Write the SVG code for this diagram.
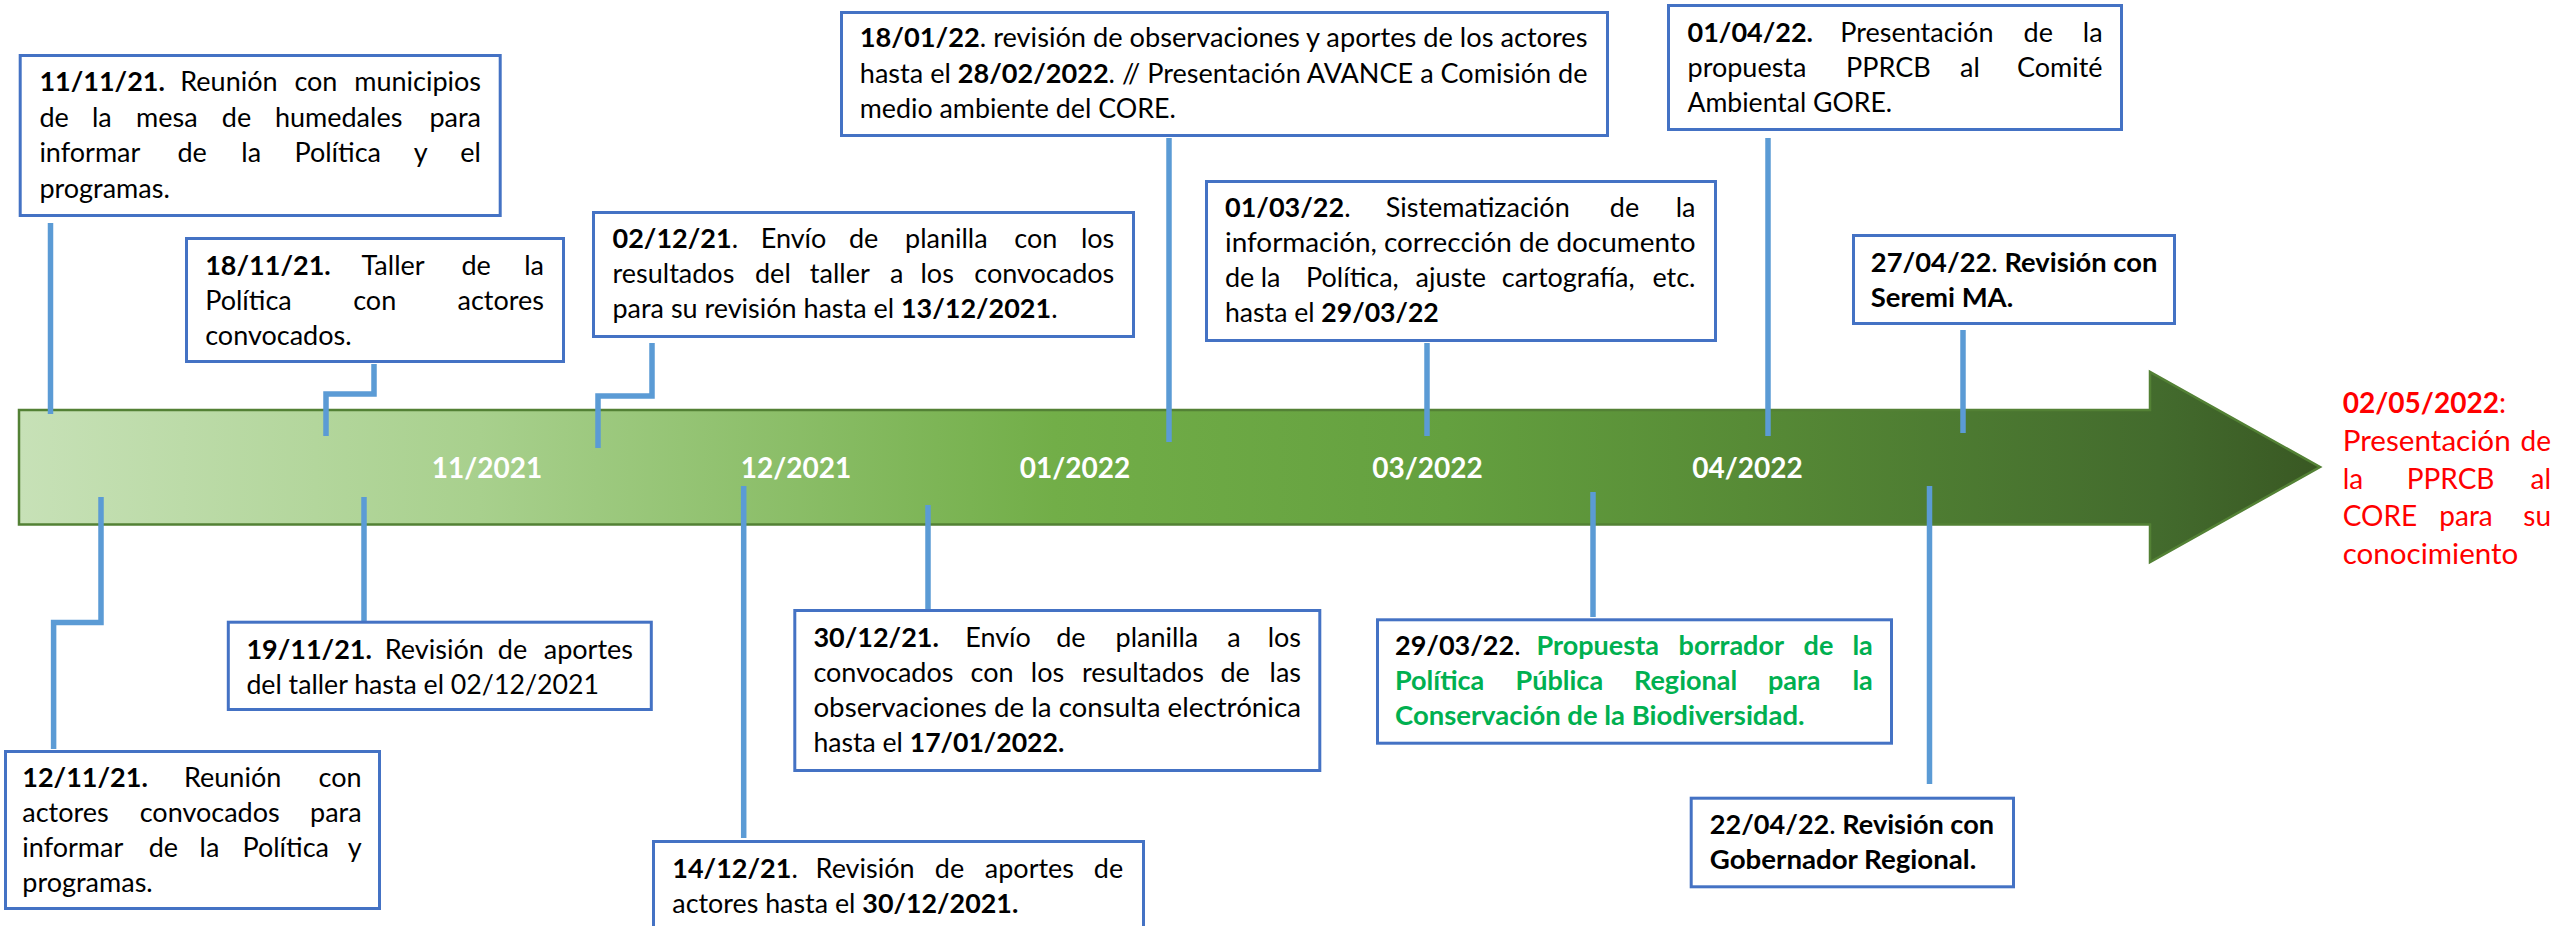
<svg xmlns="http://www.w3.org/2000/svg" width="2554" height="926" viewBox="0 0 2554 926">
<defs>
<linearGradient id="barGrad" gradientUnits="userSpaceOnUse" x1="19" y1="0" x2="2320" y2="0">
<stop offset="0" stop-color="#C7E1B7"/>
<stop offset="0.2" stop-color="#A8D08D"/>
<stop offset="0.45" stop-color="#72AE48"/>
<stop offset="0.62" stop-color="#64A03F"/>
<stop offset="0.75" stop-color="#578B36"/>
<stop offset="0.93" stop-color="#436B2D"/>
<stop offset="1" stop-color="#395823"/>
</linearGradient>
<style>
.box{fill:#FFFFFF;stroke:#4472C4;stroke-width:3}
.con{fill:none;stroke:#5B9BD5;stroke-width:5.5;stroke-linejoin:miter}
.t{font-family:Lato,"Open Sans","Liberation Sans",sans-serif;font-size:27px;fill:#000000}
.b{font-weight:700}
.g{fill:#00B050;font-weight:700}
.r{font-family:Lato,"Open Sans","Liberation Sans",sans-serif;font-size:28px;fill:#FF0000}
.m{font-family:Lato,"Open Sans","Liberation Sans",sans-serif;font-size:28px;font-weight:700;fill:#FFFFFF}
</style>
</defs>
<rect width="2554" height="926" fill="#FFFFFF"/>

<g id="timeline-arrow">
<path d="M19,410 H2150 V372 L2320,467 L2150,562 V524.5 H19 Z" fill="url(#barGrad)" stroke="#538135" stroke-width="2.5"/>
<text class="m" x="487" y="478" text-anchor="middle">11/2021</text>
<text class="m" x="796" y="478" text-anchor="middle">12/2021</text>
<text class="m" x="1075" y="478" text-anchor="middle">01/2022</text>
<text class="m" x="1427.5" y="478" text-anchor="middle">03/2022</text>
<text class="m" x="1747.5" y="478" text-anchor="middle">04/2022</text>
</g>

<g id="connectors">
<path class="con" d="M50.5,223 V414"/>
<path class="con" d="M374,364 V394 H326 V436"/>
<path class="con" d="M652,343 V396 H598 V448"/>
<path class="con" d="M1169,138 V442"/>
<path class="con" d="M1427,343 V436"/>
<path class="con" d="M1768,138 V436"/>
<path class="con" d="M1963,330 V433"/>
<path class="con" d="M101,497 V622.5 H53.6 V749"/>
<path class="con" d="M364,497 V621"/>
<path class="con" d="M743.7,486 V838"/>
<path class="con" d="M928,505 V609"/>
<path class="con" d="M1593,492 V617"/>
<path class="con" d="M1929.5,486 V784"/>
</g>

<g id="n-111121">
<rect class="box" x="20.2" y="55.5" width="480" height="160"/>
<text class="t" y="91"><tspan x="39.4" class="b">11/11/21.</tspan><tspan x="180.3">Reunión</tspan><tspan x="294.4">con</tspan><tspan x="481" text-anchor="end">municipios</tspan></text>
<text class="t" y="126.5"><tspan x="39.4">de</tspan><tspan x="92">la</tspan><tspan x="136">mesa</tspan><tspan x="221.8">de</tspan><tspan x="274.9">humedales</tspan><tspan x="481" text-anchor="end">para</tspan></text>
<text class="t" y="162"><tspan x="39.4">informar</tspan><tspan x="177.4">de</tspan><tspan x="241.3">la</tspan><tspan x="294.4">Política</tspan><tspan x="413.8">y</tspan><tspan x="481" text-anchor="end">el</tspan></text>
<text class="t" x="39.4" y="197.5">programas.</text>
</g>

<g id="n-181121">
<rect class="box" x="186.5" y="238.5" width="377" height="123"/>
<text class="t" y="275"><tspan x="205.2" class="b">18/11/21.</tspan><tspan x="361.5">Taller</tspan><tspan x="461.4">de</tspan><tspan x="544" text-anchor="end">la</tspan></text>
<text class="t" y="310"><tspan x="205.2">Política</tspan><tspan x="353.2">con</tspan><tspan x="544" text-anchor="end">actores</tspan></text>
<text class="t" x="205.2" y="345">convocados.</text>
</g>

<g id="n-021221">
<rect class="box" x="593.5" y="212.5" width="540" height="124"/>
<text class="t" y="248"><tspan x="612.5"><tspan class="b">02/12/21</tspan>.</tspan><tspan x="760.7">Envío</tspan><tspan x="849">de</tspan><tspan x="905">planilla</tspan><tspan x="1014.3">con</tspan><tspan x="1114.3" text-anchor="end">los</tspan></text>
<text class="t" y="283"><tspan x="612.5">resultados</tspan><tspan x="755">del</tspan><tspan x="809.8">taller</tspan><tspan x="890">a</tspan><tspan x="920.5">los</tspan><tspan x="1114.3" text-anchor="end">convocados</tspan></text>
<text class="t" x="612.5" y="318" textLength="445" lengthAdjust="spacingAndGlyphs">para su revisión hasta el <tspan class="b">13/12/2021</tspan>.</text>
</g>

<g id="n-180122">
<rect class="box" x="841.5" y="12.5" width="766" height="123"/>
<text class="t" x="859.8" y="47" textLength="727.7" lengthAdjust="spacingAndGlyphs"><tspan class="b">18/01/22</tspan>. revisión de observaciones y aportes de los actores</text>
<text class="t" x="859.8" y="83" textLength="727.7" lengthAdjust="spacingAndGlyphs">hasta el <tspan class="b">28/02/2022</tspan>. // Presentación AVANCE a Comisión de</text>
<text class="t" x="859.8" y="118" textLength="316" lengthAdjust="spacingAndGlyphs">medio ambiente del CORE.</text>
</g>

<g id="n-010322">
<rect class="box" x="1206.5" y="181.5" width="509" height="159"/>
<text class="t" y="217"><tspan x="1225"><tspan class="b">01/03/22</tspan>.</tspan><tspan x="1385.7">Sistematización</tspan><tspan x="1609.8">de</tspan><tspan x="1695.5" text-anchor="end">la</tspan></text>
<text class="t" x="1225" y="252" textLength="470.5" lengthAdjust="spacingAndGlyphs">información, corrección de documento</text>
<text class="t" y="287"><tspan x="1225">de</tspan><tspan x="1260.7">la</tspan><tspan x="1306">Política,</tspan><tspan x="1415.6">ajuste</tspan><tspan x="1501.8">cartografía,</tspan><tspan x="1695.5" text-anchor="end">etc.</tspan></text>
<text class="t" x="1225" y="322" textLength="213.8" lengthAdjust="spacingAndGlyphs">hasta el <tspan class="b">29/03/22</tspan></text>
</g>

<g id="n-010422">
<rect class="box" x="1668.5" y="5.5" width="453" height="124"/>
<text class="t" y="42"><tspan x="1687.5" class="b">01/04/22.</tspan><tspan x="1840.3">Presentación</tspan><tspan x="2023.6">de</tspan><tspan x="2102.6" text-anchor="end">la</tspan></text>
<text class="t" y="77"><tspan x="1687.5">propuesta</tspan><tspan x="1846">PPRCB</tspan><tspan x="1960">al</tspan><tspan x="2102.6" text-anchor="end">Comité</tspan></text>
<text class="t" x="1687.5" y="112" textLength="204.6" lengthAdjust="spacingAndGlyphs">Ambiental GORE.</text>
</g>

<g id="n-270422">
<rect class="box" x="1853.5" y="235.5" width="321" height="88"/>
<text class="t" x="1870.8" y="272" textLength="286.6" lengthAdjust="spacingAndGlyphs"><tspan class="b">27/04/22</tspan>.<tspan class="b"> Revisión con</tspan></text>
<text class="t b" x="1870.8" y="307" textLength="142.4" lengthAdjust="spacingAndGlyphs">Seremi MA.</text>
</g>

<g id="n-020522">
<text class="r" x="2342.7" y="413" textLength="163.3" lengthAdjust="spacingAndGlyphs"><tspan class="b">02/05/2022</tspan>:</text>
<text class="r" x="2342.7" y="451" textLength="168" lengthAdjust="spacingAndGlyphs">Presentación</text>
<text class="r" x="2551" y="451" text-anchor="end">de</text>
<text class="r" y="488.5"><tspan x="2342.7">la</tspan><tspan x="2406.7">PPRCB</tspan><tspan x="2551" text-anchor="end">al</tspan></text>
<text class="r" y="526"><tspan x="2342.7">CORE</tspan><tspan x="2439.3">para</tspan><tspan x="2551" text-anchor="end">su</tspan></text>
<text class="r" x="2342.7" y="563.5" textLength="175.6" lengthAdjust="spacingAndGlyphs">conocimiento</text>
</g>

<g id="n-121121">
<rect class="box" x="5.5" y="751.5" width="374" height="157"/>
<text class="t" y="787"><tspan x="22.3" class="b">12/11/21.</tspan><tspan x="184">Reunión</tspan><tspan x="361.6" text-anchor="end">con</tspan></text>
<text class="t" y="822"><tspan x="22.3">actores</tspan><tspan x="139.7">convocados</tspan><tspan x="361.6" text-anchor="end">para</tspan></text>
<text class="t" y="857"><tspan x="22.3">informar</tspan><tspan x="148.7">de</tspan><tspan x="199.6">la</tspan><tspan x="242.4">Política</tspan><tspan x="361.6" text-anchor="end">y</tspan></text>
<text class="t" x="22.3" y="892">programas.</text>
</g>

<g id="n-191121">
<rect class="box" x="228.3" y="622.2" width="423" height="87.3"/>
<text class="t" y="658.5"><tspan x="246.4" class="b">19/11/21.</tspan><tspan x="384.8">Revisión</tspan><tspan x="497.8">de</tspan><tspan x="633" text-anchor="end">aportes</tspan></text>
<text class="t" x="246.4" y="693.5" textLength="352.6" lengthAdjust="spacingAndGlyphs">del taller hasta el 02/12/2021</text>
</g>

<g id="n-141221">
<rect class="box" x="653.5" y="841.5" width="490" height="100"/>
<text class="t" y="878"><tspan x="672.3"><tspan class="b">14/12/21</tspan>.</tspan><tspan x="815.6">Revisión</tspan><tspan x="934.8">de</tspan><tspan x="984.8">aportes</tspan><tspan x="1123.2" text-anchor="end">de</tspan></text>
<text class="t" x="672.3" y="913" textLength="346" lengthAdjust="spacingAndGlyphs">actores hasta el <tspan class="b">30/12/2021.</tspan></text>
</g>

<g id="n-301221">
<rect class="box" x="794.8" y="610.5" width="525" height="160"/>
<text class="t" y="646.5"><tspan x="813.4" class="b">30/12/21.</tspan><tspan x="965.2">Envío</tspan><tspan x="1056.2">de</tspan><tspan x="1115.6">planilla</tspan><tspan x="1227.2">a</tspan><tspan x="1301" text-anchor="end">los</tspan></text>
<text class="t" y="681.5"><tspan x="813.4">convocados</tspan><tspan x="970.5">con</tspan><tspan x="1030.8">los</tspan><tspan x="1082">resultados</tspan><tspan x="1220.5">de</tspan><tspan x="1301" text-anchor="end">las</tspan></text>
<text class="t" x="813.4" y="716.5" textLength="487.6" lengthAdjust="spacingAndGlyphs">observaciones de la consulta electrónica</text>
<text class="t" x="813.4" y="751.5" textLength="250.9" lengthAdjust="spacingAndGlyphs">hasta el <tspan class="b">17/01/2022.</tspan></text>
</g>

<g id="n-290322">
<rect class="box" x="1377.5" y="619.8" width="514" height="123.4"/>
<text class="t" y="655"><tspan x="1395"><tspan class="b">29/03/22</tspan>.</tspan><tspan x="1536.6" class="g">Propuesta</tspan><tspan x="1678.6" class="g">borrador</tspan><tspan x="1803.6" class="g">de</tspan><tspan x="1872.8" text-anchor="end" class="g">la</tspan></text>
<text class="t g" y="690"><tspan x="1395">Política</tspan><tspan x="1515.6">Pública</tspan><tspan x="1634">Regional</tspan><tspan x="1767.9">para</tspan><tspan x="1872.8" text-anchor="end">la</tspan></text>
<text class="t g" x="1395" y="725" textLength="409.5" lengthAdjust="spacingAndGlyphs">Conservación de la Biodiversidad.</text>
</g>

<g id="n-220422">
<rect class="box" x="1691.2" y="798.2" width="322.3" height="88.6"/>
<text class="t" x="1709.8" y="834" textLength="284.2" lengthAdjust="spacingAndGlyphs"><tspan class="b">22/04/22</tspan>.<tspan class="b"> Revisión con</tspan></text>
<text class="t b" x="1709.8" y="869" textLength="266.5" lengthAdjust="spacingAndGlyphs">Gobernador Regional.</text>
</g>
</svg>
